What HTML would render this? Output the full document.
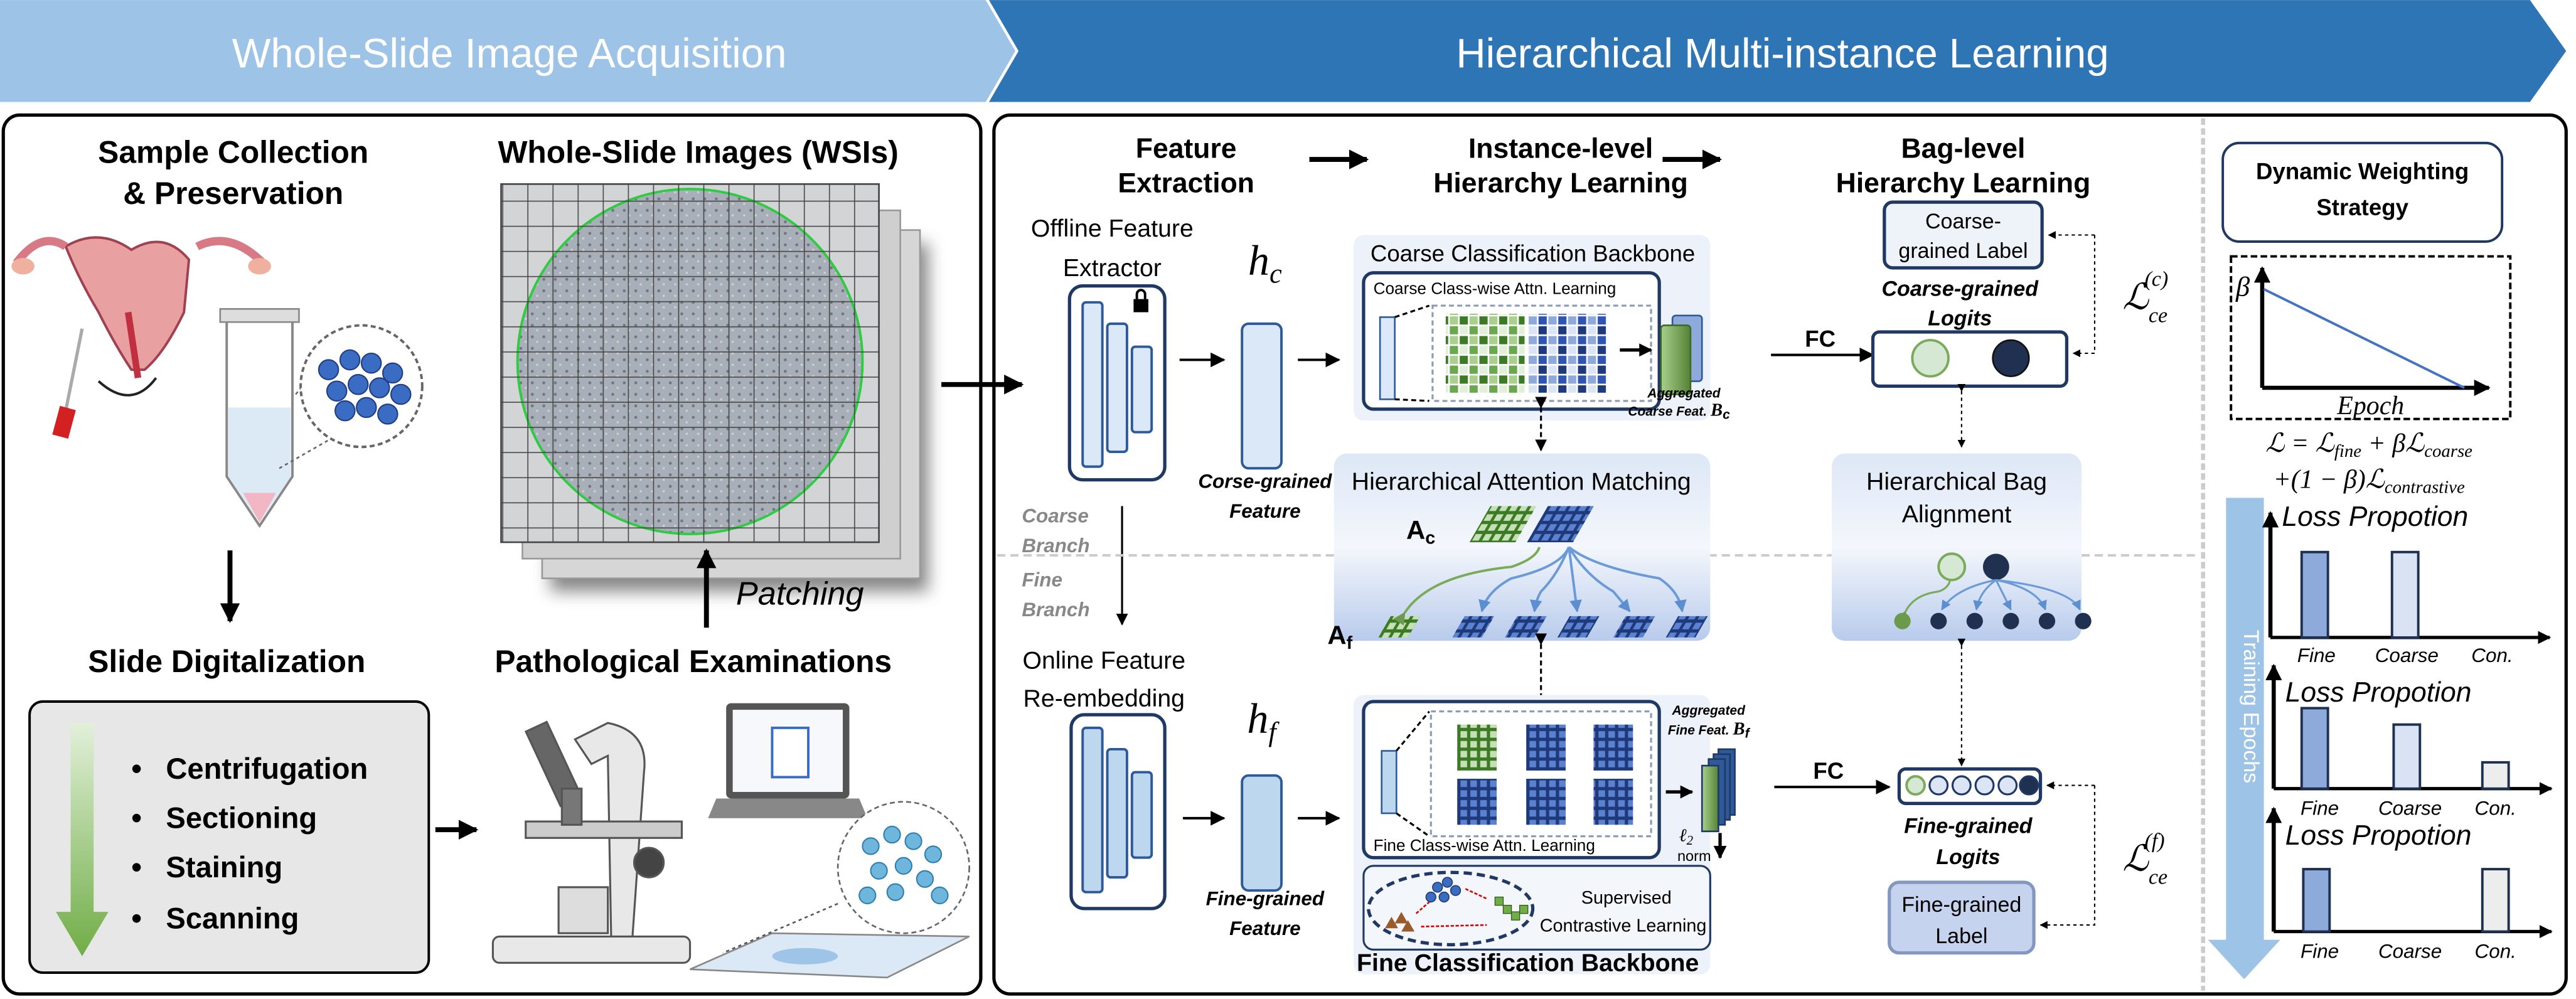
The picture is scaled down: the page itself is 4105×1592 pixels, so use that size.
<!DOCTYPE html>
<html><head><meta charset="utf-8"><style>
html,body{margin:0;padding:0;background:#fff;}
svg{display:block;}
text{font-family:"Liberation Sans",sans-serif;}
.b{font-weight:bold;}
.s{font-family:"Liberation Serif",serif;font-style:italic;}
</style></head><body>
<svg width="4105" height="1592" viewBox="0 0 1568 608" xmlns="http://www.w3.org/2000/svg">
<defs>
<marker id="ah" viewBox="0 0 10 10" refX="9" refY="5" markerWidth="4" markerHeight="4" orient="auto"><path d="M0,0L10,5L0,10z" fill="#000"/></marker>
<marker id="as" viewBox="0 0 10 10" refX="9" refY="5" markerWidth="6" markerHeight="6" orient="auto"><path d="M0,0L10,5L0,10z" fill="#000"/></marker>
<marker id="ab" viewBox="0 0 10 10" refX="9" refY="5" markerWidth="5" markerHeight="5" orient="auto"><path d="M0,0L10,5L0,10z" fill="#5b8fd0"/></marker>
<marker id="ag" viewBox="0 0 10 10" refX="9" refY="5" markerWidth="5" markerHeight="5" orient="auto"><path d="M0,0L10,5L0,10z" fill="#6a9a4a"/></marker>
<pattern id="grid" width="15.3" height="15.3" patternUnits="userSpaceOnUse"><rect width="15.3" height="15.3" fill="none" stroke="#444" stroke-width="0.6"/></pattern>
<pattern id="speck" width="7" height="7" patternUnits="userSpaceOnUse"><rect width="7" height="7" fill="#a9afb8"/><circle cx="2" cy="2" r="0.9" fill="#6f7784"/><circle cx="5" cy="5" r="0.7" fill="#cdd1d6"/></pattern>
<pattern id="gm" width="12" height="12" patternUnits="userSpaceOnUse"><rect x="0.5" y="0.5" width="5" height="5" fill="#3d7a26"/><rect x="6.5" y="0.5" width="5" height="5" fill="#a9d08e"/><rect x="0.5" y="6.5" width="5" height="5" fill="#e2efda"/><rect x="6.5" y="6.5" width="5" height="5" fill="#6aa84f"/></pattern>
<pattern id="bm" width="12" height="12" patternUnits="userSpaceOnUse"><rect x="0.5" y="0.5" width="5" height="5" fill="#2f55b4"/><rect x="6.5" y="0.5" width="5" height="5" fill="#8eaadb"/><rect x="0.5" y="6.5" width="5" height="5" fill="#1f3a7a"/><rect x="6.5" y="6.5" width="5" height="5" fill="#dbe5f5"/></pattern>
<pattern id="gm2" width="6" height="6" patternUnits="userSpaceOnUse"><rect width="6" height="6" fill="#3d7a26"/><rect x="1" y="1" width="4" height="4" fill="#c5e0b4"/></pattern>
<pattern id="bm2" width="6" height="6" patternUnits="userSpaceOnUse"><rect width="6" height="6" fill="#1f3a7a"/><rect x="1" y="1" width="4" height="4" fill="#5b82d0"/></pattern>
<linearGradient id="hp" x1="0" y1="0" x2="0" y2="1"><stop offset="0" stop-color="#dde7f6"/><stop offset="0.5" stop-color="#f4f7fc"/><stop offset="1" stop-color="#b8cbec"/></linearGradient>
<linearGradient id="garr" x1="0" y1="0" x2="0" y2="1"><stop offset="0" stop-color="#e2f0d9"/><stop offset="1" stop-color="#70ad47"/></linearGradient>
<linearGradient id="gfeat" x1="0" y1="0" x2="1" y2="0"><stop offset="0" stop-color="#a9d08e"/><stop offset="1" stop-color="#548235"/></linearGradient>
<filter id="sh" x="-20%" y="-20%" width="150%" height="150%"><feGaussianBlur stdDeviation="5"/></filter>
</defs>

<!-- banners -->
<path d="M0,0H600L618,31L600,62H0z" fill="#9dc3e6"/>
<path d="M602,0H1540L1562,31L1540,62H602L620,31z" fill="#2e75b6"/>
<text x="310" y="41" font-size="25" fill="#fff" text-anchor="middle">Whole-Slide Image Acquisition</text>
<text x="1085" y="41" font-size="25" fill="#fff" text-anchor="middle">Hierarchical Multi-instance Learning</text>

<!-- panels -->
<rect x="2" y="70" width="595" height="535" rx="10" fill="#fff" stroke="#000" stroke-width="2"/>
<rect x="605" y="70" width="957" height="535" rx="10" fill="#fff" stroke="#000" stroke-width="2"/>
<line x1="1341" y1="72" x2="1341" y2="603" stroke="#ccc" stroke-width="2.5" stroke-dasharray="4,2"/>

<!-- LEFT -->
<text x="142" y="99" font-size="19" class="b" text-anchor="middle">Sample Collection</text>
<text x="142" y="124" font-size="19" class="b" text-anchor="middle">&amp; Preservation</text>
<path d="M40,150 Q60,138 80,152 Q100,140 115,158 L112,190 Q100,215 88,225 L80,225 Q70,210 60,190 Q48,170 40,150z" fill="#e8a0a0" stroke="#a04050" stroke-width="1.5"/>
<path d="M40,150 Q25,140 10,160" stroke="#d77a85" stroke-width="5" fill="none"/>
<path d="M120,150 Q140,140 160,160" stroke="#d77a85" stroke-width="5" fill="none"/>
<ellipse cx="14" cy="162" rx="7" ry="5" fill="#f0b0a0"/><ellipse cx="158" cy="162" rx="7" ry="5" fill="#f0b0a0"/>
<path d="M78,190 L84,230" stroke="#c03040" stroke-width="4"/>
<line x1="50" y1="200" x2="40" y2="250" stroke="#aaa" stroke-width="2"/>
<rect x="34" y="248" width="10" height="18" fill="#d32020" transform="rotate(15 39 257)"/>
<path d="M60,232 Q80,250 95,230" stroke="#222" fill="none" stroke-width="1.5"/>
<path d="M138,192H178V290L158,320L138,290z" fill="#fff" stroke="#888" stroke-width="1.5"/>
<rect x="134" y="188" width="48" height="8" fill="#ddd" stroke="#888"/>
<path d="M139,248H177V290L158,318L139,290z" fill="#dbeaf5"/>
<path d="M148,300L158,318L168,300z" fill="#f3b6c4"/>
<line x1="180" y1="240" x2="200" y2="215" stroke="#666" stroke-dasharray="2,2"/>
<line x1="170" y1="285" x2="205" y2="265" stroke="#666" stroke-dasharray="2,2"/>
<circle cx="220" cy="235" r="37" fill="#fff" stroke="#666" stroke-dasharray="3,2" stroke-width="1.5"/>
<g fill="#3b6cc4" stroke="#1f3d80" stroke-width="0.8">
<circle cx="200" cy="225" r="6"/><circle cx="213" cy="219" r="6"/><circle cx="226" cy="221" r="6"/><circle cx="239" cy="227" r="6"/><circle cx="205" cy="238" r="6"/><circle cx="218" cy="234" r="6"/><circle cx="231" cy="236" r="6"/><circle cx="244" cy="240" r="6"/><circle cx="210" cy="250" r="6"/><circle cx="223" cy="248" r="6"/><circle cx="236" cy="252" r="6"/>
</g>
<line x1="140" y1="335" x2="140" y2="378" stroke="#000" stroke-width="3" marker-end="url(#ah)"/>
<text x="138" y="409" font-size="19" class="b" text-anchor="middle">Slide Digitalization</text>
<rect x="18" y="427" width="243" height="165" rx="8" fill="#e7e7e7" stroke="#000" stroke-width="1.5"/>
<path d="M43,440H57V555H66L50,582L34,555H43z" fill="url(#garr)"/>
<g font-size="18" class="b">
<text x="80" y="474">•</text><text x="101" y="474">Centrifugation</text>
<text x="80" y="504">•</text><text x="101" y="504">Sectioning</text>
<text x="80" y="534">•</text><text x="101" y="534">Staining</text>
<text x="80" y="565">•</text><text x="101" y="565">Scanning</text>
</g>
<line x1="265" y1="505" x2="290" y2="505" stroke="#000" stroke-width="3" marker-end="url(#ah)"/>
<!-- WSIs -->
<text x="425" y="99" font-size="19" class="b" text-anchor="middle">Whole-Slide Images (WSIs)</text>
<rect x="335" y="148" width="230" height="212" fill="#555" filter="url(#sh)" opacity="0.7"/>
<rect x="330" y="140" width="230" height="212" fill="#d6d6d6" stroke="#999"/>
<rect x="318" y="128" width="230" height="212" fill="#cfcfcf" stroke="#999"/>
<rect x="305" y="112" width="230" height="218" fill="#d3d4d6"/>
<circle cx="420" cy="220" r="105" fill="url(#speck)" stroke="#2ecc40" stroke-width="1.5"/>
<rect x="305" y="112" width="230" height="218" fill="url(#grid)" stroke="#444"/>
<line x1="430" y1="382" x2="430" y2="335" stroke="#000" stroke-width="3" marker-end="url(#ah)"/>
<text x="448" y="368" font-size="20" font-style="italic">Patching</text>
<text x="422" y="409" font-size="19" class="b" text-anchor="middle">Pathological Examinations</text>
<g fill="#e8e8e8" stroke="#555" stroke-width="1.2">
<rect x="300" y="570" width="120" height="16" rx="4"/>
<path d="M385,570 L392,470 Q395,445 370,440 L350,450 L360,465 L370,460 L372,570z"/>
<rect x="320" y="500" width="95" height="10" fill="#ccc"/>
<rect x="330" y="440" width="14" height="50" transform="rotate(-25 337 465)" fill="#666"/>
<rect x="342" y="480" width="12" height="22" fill="#777"/>
<circle cx="395" cy="525" r="9" fill="#444"/>
<rect x="340" y="540" width="30" height="28" fill="#ddd"/>
</g>
<path d="M420,590 L470,568 L590,570 L540,595z" fill="#dbe8f5" stroke="#888"/>
<ellipse cx="490" cy="582" rx="20" ry="5" fill="#9ec5e8"/>
<rect x="442" y="428" width="75" height="58" rx="3" fill="#555"/>
<rect x="446" y="432" width="67" height="50" fill="#f6f8fc"/>
<path d="M436,486H523L528,498H431z" fill="#888"/>
<rect x="470" y="443" width="22" height="30" fill="#fff" stroke="#3b6cc4" stroke-width="1.5"/>
<circle cx="550" cy="528" r="40" fill="#fff" stroke="#666" stroke-dasharray="3,2"/>
<g fill="#6fb6dc" stroke="#2e7fb0" stroke-width="0.8">
<circle cx="530" cy="515" r="5"/><circle cx="543" cy="508" r="5"/><circle cx="556" cy="512" r="5"/><circle cx="568" cy="520" r="5"/><circle cx="535" cy="530" r="5"/><circle cx="550" cy="527" r="5"/><circle cx="563" cy="535" r="5"/><circle cx="545" cy="543" r="5"/><circle cx="528" cy="545" r="5"/><circle cx="572" cy="545" r="5"/>
</g>
<line x1="510" y1="550" x2="440" y2="580" stroke="#555" stroke-dasharray="2,2"/>
<line x1="573" y1="234" x2="622" y2="234" stroke="#000" stroke-width="3" marker-end="url(#ah)"/>

<!-- RIGHT headings -->
<g font-size="17" class="b" text-anchor="middle">
<text x="722" y="96">Feature</text><text x="722" y="117">Extraction</text>
<text x="950" y="96">Instance-level</text><text x="950" y="117">Hierarchy Learning</text>
<text x="1195" y="96">Bag-level</text><text x="1195" y="117">Hierarchy Learning</text>
</g>
<line x1="797" y1="97" x2="832" y2="97" stroke="#000" stroke-width="3" marker-end="url(#ah)"/>
<line x1="1012" y1="97" x2="1047" y2="97" stroke="#000" stroke-width="3" marker-end="url(#ah)"/>

<text x="677" y="144" font-size="15" text-anchor="middle">Offline Feature</text>
<text x="677" y="168" font-size="15" text-anchor="middle">Extractor</text>
<rect x="651" y="174" width="58" height="118" rx="8" fill="#fff" stroke="#1f3864" stroke-width="2"/>
<g fill="#dbe8f7" stroke="#2e5a9a" stroke-width="1.5">
<rect x="659" y="184" width="12" height="100" rx="2"/><rect x="674" y="197" width="12" height="78" rx="2"/><rect x="689" y="211" width="12" height="52" rx="2"/>
</g>
<rect x="690" y="182" width="9" height="8" fill="#000"/><path d="M692,182v-3a2.5,2.5 0 0 1 5,0v3" stroke="#000" fill="none" stroke-width="1.5"/>
<text x="770" y="167" font-size="26" class="s" text-anchor="middle">h<tspan font-size="17" dy="5">c</tspan></text>
<rect x="756" y="197" width="24" height="88" rx="4" fill="#dbe8f7" stroke="#2e5a9a" stroke-width="1.5"/>
<line x1="718" y1="219" x2="745" y2="219" stroke="#000" stroke-width="1.5" marker-end="url(#as)"/>
<line x1="790" y1="219" x2="815" y2="219" stroke="#000" stroke-width="1.5" marker-end="url(#as)"/>
<text x="770" y="297" font-size="12" class="b" font-style="italic" text-anchor="middle">Corse-grained</text>
<text x="770" y="315" font-size="12" class="b" font-style="italic" text-anchor="middle">Feature</text>
<g font-size="12" class="b" font-style="italic" fill="#888">
<text x="622" y="318">Coarse</text><text x="622" y="336">Branch</text>
<text x="622" y="357">Fine</text><text x="622" y="375">Branch</text>
</g>
<line x1="683" y1="308" x2="683" y2="380" stroke="#000" stroke-width="1.2" marker-end="url(#as)"/>
<line x1="607" y1="338" x2="812" y2="338" stroke="#ccc" stroke-width="1.5" stroke-dasharray="5,3"/>
<line x1="1040" y1="338" x2="1115" y2="338" stroke="#ccc" stroke-width="1.5" stroke-dasharray="5,3"/>
<line x1="1267" y1="338" x2="1339" y2="338" stroke="#ccc" stroke-width="1.5" stroke-dasharray="5,3"/>

<!-- Coarse backbone -->
<rect x="824" y="143" width="217" height="113" rx="6" fill="#edf2fa"/>
<text x="933" y="159" font-size="14" text-anchor="middle">Coarse Classification Backbone</text>
<rect x="830" y="166" width="180" height="83" rx="6" fill="#fff" stroke="#1f3864" stroke-width="2"/>
<text x="836" y="179" font-size="10">Coarse Class-wise Attn. Learning</text>
<rect x="840" y="193" width="9" height="50" fill="#dbe8f7" stroke="#2e5a9a"/>
<path d="M849,193 L870,186 M849,243 L870,244" stroke="#000" stroke-dasharray="3,2" stroke-width="1.2"/>
<rect x="872" y="186" width="133" height="58" fill="none" stroke="#8a9bb5" stroke-dasharray="3,2" stroke-width="1.2"/>
<rect x="880" y="191" width="48" height="48" fill="url(#gm)"/>
<rect x="930" y="191" width="48" height="48" fill="url(#bm)"/>
<line x1="986" y1="213" x2="1005" y2="213" stroke="#000" stroke-width="2" marker-end="url(#ah)"/>
<rect x="1018" y="192" width="18" height="40" rx="2" fill="#8eaadb" stroke="#2e5a9a"/>
<rect x="1011" y="198" width="18" height="42" rx="2" fill="url(#gfeat)" stroke="#3d6a26"/>
<text x="1025" y="242" font-size="8" class="b" font-style="italic" text-anchor="middle">Aggregated</text>
<text x="1022" y="253" font-size="8" class="b" font-style="italic" text-anchor="middle">Coarse Feat. <tspan font-family="Liberation Serif" font-size="11">B</tspan><tspan font-size="8" dy="2">c</tspan></text>
<text x="1108" y="211" font-size="14" class="b" text-anchor="middle">FC</text>
<line x1="1078" y1="216" x2="1140" y2="216" stroke="#000" stroke-width="1.5" marker-end="url(#as)"/>

<!-- Hierarchical attention matching -->
<rect x="812" y="276" width="229" height="114" rx="8" fill="url(#hp)"/>
<text x="926" y="298" font-size="15" text-anchor="middle">Hierarchical Attention Matching</text>
<text x="856" y="328" font-size="16" font-family="Liberation Serif" class="b">A<tspan font-size="11" dy="3">c</tspan></text>
<rect x="900" y="308" width="28" height="22" fill="url(#gm2)" transform="skewX(-30) translate(185 0)"/>
<rect x="935" y="308" width="28" height="22" fill="url(#bm2)" transform="skewX(-30) translate(185 0)"/>
<text x="808" y="392" font-size="16" font-family="Liberation Serif" class="b">A<tspan font-size="11" dy="3">f</tspan></text>
<rect x="845" y="375" width="18" height="13" fill="url(#gm2)" transform="skewX(-30) translate(218 0)"/>
<rect x="890" y="375" width="18" height="13" fill="url(#bm2)" transform="skewX(-30) translate(218 0)"/>
<rect x="922" y="375" width="18" height="13" fill="url(#bm2)" transform="skewX(-30) translate(218 0)"/>
<rect x="954" y="375" width="18" height="13" fill="url(#bm2)" transform="skewX(-30) translate(218 0)"/>
<rect x="988" y="375" width="18" height="13" fill="url(#bm2)" transform="skewX(-30) translate(218 0)"/>
<rect x="1020" y="375" width="18" height="13" fill="url(#bm2)" transform="skewX(-30) translate(218 0)"/>
<path d="M855,373 Q870,350 920,345 Q935,340 937,333" stroke="#7aaa5a" stroke-width="1.5" fill="none" marker-start="url(#ag)"/>
<g stroke="#6a9ad8" stroke-width="1.5" fill="none" marker-end="url(#ab)">
<path d="M955,333 Q950,345 920,352 Q905,360 902,372"/>
<path d="M955,333 Q948,350 938,360 Q935,365 934,372"/>
<path d="M955,333 L960,372"/>
<path d="M955,333 Q965,350 982,360 L992,372"/>
<path d="M955,333 Q970,345 1010,352 Q1022,360 1024,372"/>
</g>
<line x1="938" y1="248" x2="938" y2="274" stroke="#000" stroke-width="1.2" stroke-dasharray="3,2" marker-start="url(#as)" marker-end="url(#as)"/>
<line x1="938" y1="392" x2="938" y2="440" stroke="#000" stroke-width="1.2" stroke-dasharray="3,2" marker-start="url(#as)" marker-end="url(#as)"/>

<!-- Fine branch -->
<text x="672" y="407" font-size="15" text-anchor="middle">Online Feature</text>
<text x="672" y="430" font-size="15" text-anchor="middle">Re-embedding</text>
<rect x="652" y="435" width="57" height="118" rx="8" fill="#fff" stroke="#1f3864" stroke-width="2"/>
<g fill="#bdd7ee" stroke="#2e5a9a" stroke-width="1.5">
<rect x="659" y="443" width="12" height="100" rx="2"/><rect x="674" y="456" width="12" height="78" rx="2"/><rect x="689" y="470" width="12" height="52" rx="2"/>
</g>
<text x="768" y="446" font-size="26" class="s" text-anchor="middle">h<tspan font-size="17" dy="5">f</tspan></text>
<rect x="756" y="472" width="24" height="70" rx="4" fill="#bdd7ee" stroke="#2e5a9a" stroke-width="1.5"/>
<line x1="720" y1="498" x2="745" y2="498" stroke="#000" stroke-width="1.5" marker-end="url(#as)"/>
<line x1="790" y1="498" x2="815" y2="498" stroke="#000" stroke-width="1.5" marker-end="url(#as)"/>
<text x="770" y="551" font-size="12" class="b" font-style="italic" text-anchor="middle">Fine-grained</text>
<text x="770" y="569" font-size="12" class="b" font-style="italic" text-anchor="middle">Feature</text>

<rect x="824" y="423" width="217" height="170" rx="6" fill="#edf2fa"/>
<rect x="830" y="427" width="180" height="95" rx="6" fill="#fff" stroke="#1f3864" stroke-width="2"/>
<rect x="841" y="457" width="9" height="38" fill="#bdd7ee" stroke="#2e5a9a"/>
<path d="M850,457 L870,433 M850,495 L870,509" stroke="#000" stroke-dasharray="3,2" stroke-width="1.2"/>
<rect x="871" y="433" width="134" height="76" fill="none" stroke="#8a9bb5" stroke-dasharray="3,2" stroke-width="1.2"/>
<rect x="887" y="441" width="24" height="28" fill="url(#gm2)"/>
<rect x="929" y="441" width="24" height="28" fill="url(#bm2)"/>
<rect x="970" y="441" width="24" height="28" fill="url(#bm2)"/>
<rect x="887" y="474" width="24" height="28" fill="url(#bm2)"/>
<rect x="929" y="474" width="24" height="28" fill="url(#bm2)"/>
<rect x="970" y="474" width="24" height="28" fill="url(#bm2)"/>
<text x="836" y="518" font-size="10">Fine Class-wise Attn. Learning</text>
<line x1="1014" y1="482" x2="1030" y2="482" stroke="#000" stroke-width="2" marker-end="url(#ah)"/>
<g stroke="#1f3864"><rect x="1046" y="456" width="10" height="40" fill="#2e5a9a"/><rect x="1043" y="459" width="10" height="40" fill="#2e5a9a"/><rect x="1040" y="462" width="10" height="40" fill="#2e5a9a"/><rect x="1036" y="466" width="10" height="40" fill="url(#gfeat)"/></g>
<text x="1040" y="435" font-size="8" class="b" font-style="italic" text-anchor="middle">Aggregated</text>
<text x="1040" y="447" font-size="8" class="b" font-style="italic" text-anchor="middle">Fine Feat. <tspan font-family="Liberation Serif" font-size="11">B</tspan><tspan font-size="8" dy="2">f</tspan></text>
<text x="1022" y="512" font-size="11" class="s">ℓ<tspan font-size="8" dy="2">2</tspan></text>
<text x="1021" y="524" font-size="9">norm</text>
<line x1="1047" y1="507" x2="1047" y2="522" stroke="#000" stroke-width="2" marker-end="url(#ah)"/>
<rect x="830" y="527" width="211" height="51" rx="6" fill="#f3f6fb" stroke="#1f3864" stroke-width="1.2"/>
<ellipse cx="883" cy="553" rx="50" ry="22" fill="none" stroke="#1f3864" stroke-width="2" stroke-dasharray="5,3"/>
<g fill="#3b6cc4" stroke="#1f3864" stroke-width="0.6"><circle cx="875" cy="540" r="3"/><circle cx="881" cy="537" r="3"/><circle cx="886" cy="542" r="3"/><circle cx="879" cy="546" r="3"/><circle cx="871" cy="546" r="3"/></g>
<g fill="#9a5a2a"><path d="M843,565l4,-7l4,7z"/><path d="M849,562l4,-7l4,7z"/><path d="M853,567l4,-7l4,7z"/></g>
<g fill="#70ad47" stroke="#2e5a1a" stroke-width="0.5"><rect x="910" y="546" width="5" height="5"/><rect x="915" y="551" width="5" height="5"/><rect x="920" y="555" width="5" height="5"/><rect x="925" y="551" width="5" height="5"/></g>
<g stroke="#d00" stroke-width="1" stroke-dasharray="2,1"><line x1="862" y1="556" x2="870" y2="549"/><line x1="892" y1="541" x2="905" y2="547"/><line x1="865" y1="564" x2="905" y2="563"/></g>
<text x="990" y="550" font-size="11" text-anchor="middle">Supervised</text>
<text x="988" y="567" font-size="11" text-anchor="middle">Contrastive Learning</text>
<text x="930" y="591" font-size="15" class="b" text-anchor="middle">Fine Classification Backbone</text>
<text x="1113" y="474" font-size="14" class="b" text-anchor="middle">FC</text>
<line x1="1080" y1="479" x2="1150" y2="479" stroke="#000" stroke-width="1.5" marker-end="url(#as)"/>

<!-- bag level -->
<rect x="1147" y="123" width="96" height="40" rx="5" fill="#eef2f9" stroke="#1f3864" stroke-width="2"/>
<text x="1195" y="139" font-size="13" text-anchor="middle">Coarse-</text>
<text x="1195" y="157" font-size="13" text-anchor="middle">grained Label</text>
<text x="1193" y="180" font-size="13" class="b" font-style="italic" text-anchor="middle">Coarse-grained</text>
<text x="1193" y="198" font-size="13" class="b" font-style="italic" text-anchor="middle">Logits</text>
<rect x="1140" y="202" width="118" height="33" rx="4" fill="#fff" stroke="#1f3864" stroke-width="2"/>
<circle cx="1175" cy="218" r="11" fill="#d5e8d4" stroke="#7aaa5a" stroke-width="1.5"/>
<circle cx="1224" cy="218" r="11" fill="#1f3050" stroke="#111"/>
<path d="M1275,143 V215 H1262" stroke="#000" stroke-width="0.8" stroke-dasharray="2,2" fill="none" marker-end="url(#as)"/>
<line x1="1275" y1="143" x2="1247" y2="143" stroke="#000" stroke-width="0.8" marker-end="url(#as)" stroke-dasharray="2,2"/>
<text x="1292" y="188" font-size="22" class="s">ℒ<tspan font-size="13" dy="8">ce</tspan><tspan font-size="13" dx="-14" dy="-22">(c)</tspan></text>
<line x1="1194" y1="238" x2="1194" y2="272" stroke="#000" stroke-width="0.8" stroke-dasharray="2,2" marker-start="url(#as)" marker-end="url(#as)"/>
<rect x="1115" y="276" width="152" height="114" rx="8" fill="url(#hp)"/>
<text x="1191" y="298" font-size="15" text-anchor="middle">Hierarchical Bag</text>
<text x="1191" y="318" font-size="15" text-anchor="middle">Alignment</text>
<circle cx="1188" cy="345" r="8" fill="#d5e8d4" stroke="#7aaa5a" stroke-width="1.5"/>
<circle cx="1215" cy="345" r="8" fill="#1f3050"/>
<g fill="#1f3050"><circle cx="1158" cy="378" r="5" fill="#6a9a4a"/><circle cx="1180" cy="378" r="5"/><circle cx="1202" cy="378" r="5"/><circle cx="1224" cy="378" r="5"/><circle cx="1246" cy="378" r="5"/><circle cx="1268" cy="378" r="5"/></g>
<path d="M1160,372 Q1165,362 1180,360 Q1186,358 1187,353" stroke="#7aaa5a" stroke-width="1.2" fill="none" marker-start="url(#ag)"/>
<g stroke="#6a9ad8" stroke-width="1.2" fill="none" marker-end="url(#ab)">
<path d="M1215,353 Q1190,358 1182,371"/><path d="M1215,353 Q1205,360 1203,371"/><path d="M1215,353 L1224,371"/><path d="M1215,353 Q1240,358 1245,371"/><path d="M1215,353 Q1260,358 1266,371"/>
</g>
<line x1="1194" y1="393" x2="1194" y2="466" stroke="#000" stroke-width="0.8" stroke-dasharray="2,2" marker-start="url(#as)" marker-end="url(#as)"/>
<rect x="1156" y="468" width="86" height="21" rx="4" fill="#fff" stroke="#1f3864" stroke-width="2"/>
<circle cx="1166" cy="478" r="5.5" fill="#d5e8d4" stroke="#7aaa5a" stroke-width="1.5"/>
<g fill="#dbe5f5" stroke="#1f3864" stroke-width="1.2"><circle cx="1180" cy="478" r="5.5"/><circle cx="1194" cy="478" r="5.5"/><circle cx="1208" cy="478" r="5.5"/><circle cx="1222" cy="478" r="5.5"/><circle cx="1235" cy="478" r="5.5" fill="#1f3050"/></g>
<text x="1198" y="507" font-size="13" class="b" font-style="italic" text-anchor="middle">Fine-grained</text>
<text x="1198" y="526" font-size="13" class="b" font-style="italic" text-anchor="middle">Logits</text>
<rect x="1150" y="537" width="88" height="43" rx="6" fill="#c5d3ee" stroke="#8497c0" stroke-width="2"/>
<text x="1194" y="555" font-size="13" text-anchor="middle">Fine-grained</text>
<text x="1194" y="574" font-size="13" text-anchor="middle">Label</text>
<path d="M1275,478 V563 H1242" stroke="#000" stroke-width="0.8" stroke-dasharray="2,2" fill="none" marker-end="url(#as)"/>
<line x1="1275" y1="478" x2="1246" y2="478" stroke="#000" stroke-width="0.8" stroke-dasharray="2,2" marker-end="url(#as)"/>
<text x="1292" y="530" font-size="22" class="s">ℒ<tspan font-size="13" dy="8">ce</tspan><tspan font-size="13" dx="-14" dy="-22">(f)</tspan></text>

<!-- Dynamic weighting -->
<rect x="1353" y="87" width="170" height="60" rx="10" fill="#fff" stroke="#1f3864" stroke-width="1.5"/>
<text x="1438" y="109" font-size="14" class="b" text-anchor="middle">Dynamic Weighting</text>
<text x="1438" y="131" font-size="14" class="b" text-anchor="middle">Strategy</text>
<rect x="1358" y="156" width="170" height="99" fill="none" stroke="#000" stroke-width="1.5" stroke-dasharray="4,2"/>
<line x1="1377" y1="236" x2="1377" y2="163" stroke="#000" stroke-width="2.5" marker-end="url(#ah)"/>
<line x1="1377" y1="236" x2="1515" y2="236" stroke="#000" stroke-width="2.5" marker-end="url(#ah)"/>
<line x1="1378" y1="176" x2="1500" y2="236" stroke="#4472c4" stroke-width="1.5"/>
<text x="1361" y="180" font-size="17" class="s">β</text>
<text x="1443" y="252" font-size="16" class="s" text-anchor="middle">Epoch</text>
<text x="1442" y="275" font-size="16" class="s" text-anchor="middle">ℒ = ℒ<tspan font-size="11" dy="3">fine</tspan><tspan dy="-3"> + βℒ</tspan><tspan font-size="11" dy="3">coarse</tspan></text>
<text x="1442" y="297" font-size="16" class="s" text-anchor="middle">+(1 − β)ℒ<tspan font-size="11" dy="3">contrastive</tspan></text>
<path d="M1355,303H1378V572H1388L1366,596L1344,572H1355z" fill="#9dc3e6"/>
<text x="1366" y="430" font-size="13" fill="#fff" transform="rotate(90 1366 430)" text-anchor="middle">Training Epochs</text>
<g font-family="Liberation Serif" font-style="italic">
<line x1="1382" y1="388" x2="1382" y2="312" stroke="#000" stroke-width="2.5" marker-end="url(#ah)"/>
<line x1="1382" y1="388" x2="1552" y2="388" stroke="#000" stroke-width="2" marker-end="url(#ah)"/>
<text x="1389" y="320" font-size="17">Loss Propotion</text>
<rect x="1401" y="336" width="16" height="52" fill="#8eaadb" stroke="#1f3050" stroke-width="1.5"/>
<rect x="1456" y="336" width="16" height="52" fill="#dae3f3" stroke="#1f3050" stroke-width="1.5"/>
<text x="1410" y="403" font-size="12" text-anchor="middle">Fine</text><text x="1465" y="403" font-size="12" text-anchor="middle">Coarse</text><text x="1517" y="403" font-size="12" text-anchor="middle">Con.</text>
<line x1="1384" y1="480" x2="1384" y2="405" stroke="#000" stroke-width="2.5" marker-end="url(#ah)"/>
<line x1="1384" y1="480" x2="1553" y2="480" stroke="#000" stroke-width="2" marker-end="url(#ah)"/>
<text x="1391" y="427" font-size="17">Loss Propotion</text>
<rect x="1401" y="431" width="16" height="49" fill="#8eaadb" stroke="#1f3050" stroke-width="1.5"/>
<rect x="1457" y="441" width="16" height="39" fill="#dae3f3" stroke="#1f3050" stroke-width="1.5"/>
<rect x="1511" y="464" width="16" height="16" fill="#ededed" stroke="#1f3050" stroke-width="1.5"/>
<text x="1412" y="496" font-size="12" text-anchor="middle">Fine</text><text x="1467" y="496" font-size="12" text-anchor="middle">Coarse</text><text x="1519" y="496" font-size="12" text-anchor="middle">Con.</text>
<line x1="1384" y1="567" x2="1384" y2="492" stroke="#000" stroke-width="2.5" marker-end="url(#ah)"/>
<line x1="1384" y1="567" x2="1553" y2="567" stroke="#000" stroke-width="2" marker-end="url(#ah)"/>
<text x="1391" y="514" font-size="17">Loss Propotion</text>
<rect x="1402" y="529" width="16" height="38" fill="#8eaadb" stroke="#1f3050" stroke-width="1.5"/>
<rect x="1511" y="529" width="16" height="38" fill="#ededed" stroke="#1f3050" stroke-width="1.5"/>
<text x="1412" y="583" font-size="12" text-anchor="middle">Fine</text><text x="1467" y="583" font-size="12" text-anchor="middle">Coarse</text><text x="1519" y="583" font-size="12" text-anchor="middle">Con.</text>
</g>
</svg>
</body></html>
